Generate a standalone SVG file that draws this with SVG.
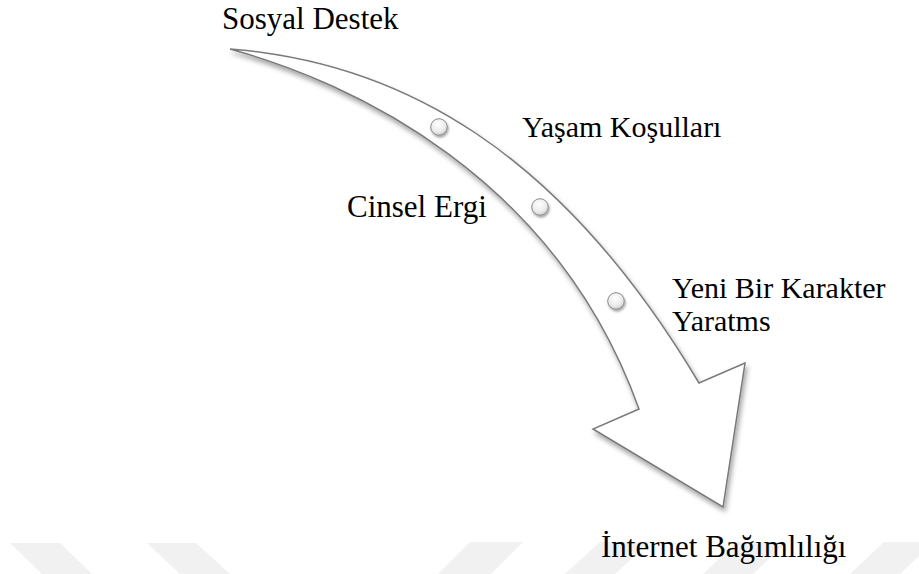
<svg xmlns="http://www.w3.org/2000/svg" width="919" height="574" viewBox="0 0 919 574">
  <style>
    .lbl { font-family: 'Liberation Serif', 'Times New Roman', Times, 'DejaVu Serif', serif; font-size: 30px; fill: #000000; }
    .big { font-size: 31px; }
    .wm { fill: #f1f1f1; }
    .arrow { fill: #ffffff; stroke: #7a7a7a; stroke-width: 1.5; stroke-linejoin: miter; }
    .bullet { fill: url(#ball); stroke: #8a8a8a; stroke-width: 1; }
  </style>
  <defs>
    <filter id="shadow" x="-10%" y="-10%" width="130%" height="130%">
      <feDropShadow dx="2" dy="4" stdDeviation="2.5" flood-color="#000000" flood-opacity="0.35"/>
    </filter>
    <filter id="bshadow" x="-50%" y="-50%" width="200%" height="200%">
      <feDropShadow dx="1" dy="2" stdDeviation="1.2" flood-color="#000000" flood-opacity="0.35"/>
    </filter>
    <radialGradient id="ball" cx="0.45" cy="0.35" r="0.7">
      <stop offset="0" stop-color="#ffffff"/>
      <stop offset="0.6" stop-color="#ececec"/>
      <stop offset="1" stop-color="#c8c8c8"/>
    </radialGradient>
  </defs>
  <rect width="919" height="574" fill="#ffffff"/>

  <g id="watermark">
    <polygon class="wm" points="10,543 60,543 92,574 42,574"/>
    <polygon class="wm" points="147,543 196,543 230,574 180,574"/>
    <polygon class="wm" points="470,542 523,542 491,574 438,574"/>
    <polygon class="wm" points="600,542 650,542 615,574 565,574"/>
    <polygon class="wm" points="737,542 787,542 753,574 703,574"/>
    <polygon class="wm" points="884,542 934,542 900,574 850,574"/>
  </g>

  <g id="connectors">
    <path id="curved-arrow" class="arrow" filter="url(#shadow)"
      d="M230,49 C400,62 560,150 699,383 L745,363 L723,507 L593,429 L639,409 C555,175 350,82 230,49 Z"/>
  </g>

  <g id="bullet-1"><circle class="bullet" filter="url(#bshadow)" cx="439" cy="127" r="8.3"/></g>
  <g id="bullet-2"><circle class="bullet" filter="url(#bshadow)" cx="540" cy="207" r="8.3"/></g>
  <g id="bullet-3"><circle class="bullet" filter="url(#bshadow)" cx="616" cy="301" r="8.3"/></g>

  <g id="node-sosyal-destek"><text class="lbl big" x="222" y="29">Sosyal Destek</text></g>
  <g id="node-yasam-kosullari"><text class="lbl" x="522" y="137">Yaşam Koşulları</text></g>
  <g id="node-cinsel-ergi"><text class="lbl big" x="347" y="217">Cinsel Ergi</text></g>
  <g id="node-yeni-bir-karakter">
    <text class="lbl" x="672" y="298">Yeni Bir Karakter</text>
    <text class="lbl" x="672" y="331">Yaratms</text>
  </g>
  <g id="node-internet-bagimliligi"><text class="lbl big" x="601" y="557">İnternet Bağımlılığı</text></g>
</svg>
